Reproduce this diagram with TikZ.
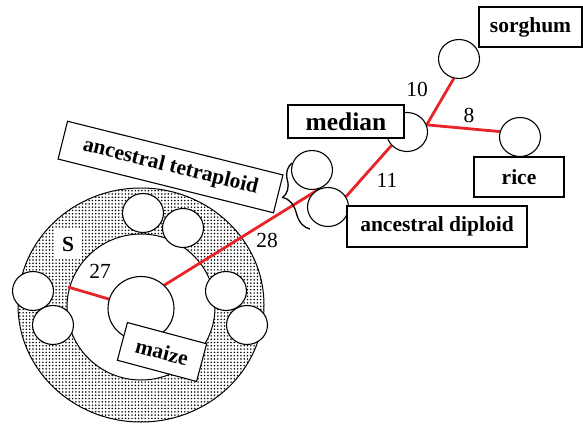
\documentclass[tikz,border=0pt]{standalone}
\usepackage{fontspec}
\setmainfont{Liberation Serif}
\usetikzlibrary{shapes.geometric,patterns.meta,calc,decorations.pathreplacing}
\pgfdeclarelayer{ring}
\pgfdeclarelayer{links}
\pgfsetlayers{ring,links,main}
\definecolor{branch}{RGB}{232,36,40}
\begin{document}
\begin{tikzpicture}[x=1pt,y=-1pt,
  taxon/.style={draw,fill=white,ellipse,line width=1.1pt,minimum width=41pt,minimum height=39pt,inner sep=0pt},
  tag/.style={draw,fill=white,rectangle,line width=1.1pt,inner sep=0pt,font=\fontsize{21.5}{24}\selectfont\bfseries},
  dist/.style={inner sep=0pt,font=\fontsize{21.5}{24}\selectfont},
  link/.style={draw=branch,line width=2.8pt}]
\useasboundingbox (0,0) rectangle (583,425);

% stippled ring around maize
\begin{pgfonlayer}{ring}
  \fill[even odd rule,pattern={Dots[distance=3.3pt,radius=0.85pt]}]
    (141,305) ellipse [x radius=123,y radius=117]
    (141,307) ellipse [x radius=74,y radius=73];
  \draw[line width=1pt] (141,305) ellipse [x radius=123,y radius=117];
  \draw[line width=1pt] (141,307) ellipse [x radius=74,y radius=73];
\end{pgfonlayer}

% genomes
\node[taxon] (sorg) at (459,59) {};
\node[taxon] (rice) at (520,137) {};
\node[taxon] (med) at (407,132) {};
\node[taxon] (tet) at (312,170) {};
\node[taxon] (dip) at (328,207) {};
\node[taxon,minimum width=66pt,minimum height=64pt] (mz) at (141,308.5) {};

% satellite circles on the ring
\node[taxon] (r1) at (143,213) {};
\node[taxon] (r2) at (183,228) {};
\node[taxon] (r3) at (33,291) {};
\node[taxon] (r4) at (53,325) {};
\node[taxon] (r5) at (226,291) {};
\node[taxon] (r6) at (247,325) {};

% labels
\node[tag,minimum width=103pt,minimum height=40pt] (sorgtag) at (530.5,27) {sorghum};
\node[tag,minimum width=116pt,minimum height=33pt,font=\fontsize{25.5}{28}\selectfont\bfseries] (medtag) at (346,121.5) {median\hspace{14pt}};
\node[tag,minimum width=90pt,minimum height=40pt] (ricetag) at (519,177) {rice};
\node[tag,minimum width=180pt,minimum height=41pt] (diptag) at (437,226.5) {ancestral diploid};
\node[tag,minimum width=222pt,minimum height=39pt,rotate=-14] (tettag) at (170.5,167) {ancestral tetraploid};
\node[tag,minimum width=82pt,minimum height=39pt,rotate=-15] (mztag) at (162,352) {maize};
\node[fill=white,minimum width=27pt,minimum height=30pt,inner sep=0pt,font=\fontsize{21.5}{24}\selectfont\bfseries] (s) at (68,244) {S};

% brace grouping the tetraploid pair
\draw[decorate,decoration={brace,amplitude=18pt,aspect=0.55},line width=1.3pt] (310,229) -- (292,163);

% branches
\coordinate (s27) at (68,287);
\begin{pgfonlayer}{links}
  \draw[link] (med.20) -- (sorg.255);
  \draw[link] (med.20) -- (rice.165);
  \draw[link] (med.221) -- (dip.30);
  \draw[link] (mz.45) -- ($(tet.center)!0.5!(dip.center)$);
  \draw[link] (mz.center) -- (s27);
\end{pgfonlayer}

% branch lengths
\node[dist] (d10) at (417,89) {10};
\node[dist] (d8) at (469,115) {8};
\node[dist] (d11) at (387,180) {11};
\node[dist] (d28) at (267,240) {28};
\node[dist] (d27) at (100,271) {27};
\end{tikzpicture}
\end{document}
